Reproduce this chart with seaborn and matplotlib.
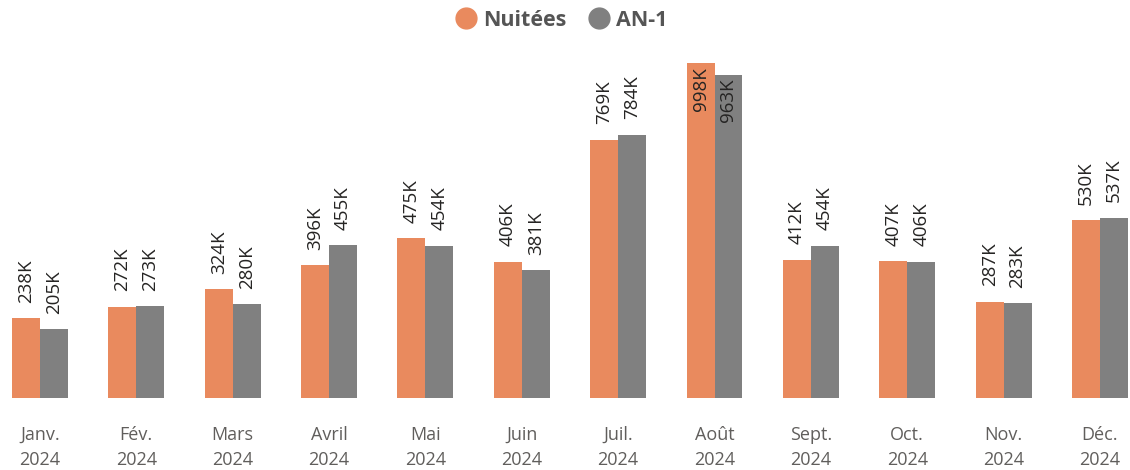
import matplotlib
matplotlib.use("Agg")
import matplotlib.pyplot as plt
from matplotlib.lines import Line2D
import seaborn as sns
import pandas as pd

months = ["Janv.\n2024", "Fév.\n2024", "Mars\n2024", "Avril\n2024", "Mai\n2024", "Juin\n2024",
          "Juil.\n2024", "Août\n2024", "Sept.\n2024", "Oct.\n2024", "Nov.\n2024", "Déc.\n2024"]
nuitees = [238, 272, 324, 396, 475, 406, 769, 998, 412, 407, 287, 530]
an1 = [205, 273, 280, 455, 454, 381, 784, 963, 454, 406, 283, 537]
series = ["Nuitées", "AN-1"]
colors = {"Nuitées": "#E98A5E", "AN-1": "#808080"}

df = pd.DataFrame({
    "mois": months * 2,
    "serie": [series[0]] * 12 + [series[1]] * 12,
    "valeur": nuitees + an1,
})

sns.set_theme(style="white")
plt.rcParams["font.family"] = ["Open Sans", "DejaVu Sans"]

fig = plt.figure(figsize=(11.3, 4.7), dpi=100)
ax = fig.add_axes([0, 1 - 398 / 470, 1, (398 - 40) / 470])

sns.barplot(data=df, x="mois", y="valeur", hue="serie", palette=colors,
            width=0.58, gap=0, ax=ax, legend=False, saturation=1, linewidth=0)

ymax = 1066
ax.set_ylim(0, ymax)
ax.set_xlim(-40 / 96.36, (1130 - 40) / 96.36)

for container, vals in zip(ax.containers, [nuitees, an1]):
    for bar, v in zip(container, vals):
        bar.set_edgecolor("none")
        cx = bar.get_x() + bar.get_width() / 2
        txt = f"{v}K"
        if v > 900:
            ax.annotate(txt, (cx, v), xytext=(0, -3), textcoords="offset points",
                        rotation=90, ha="center", va="top", fontsize=13.5, color="#252423")
        else:
            ax.annotate(txt, (cx, v), xytext=(0, 11), textcoords="offset points",
                        rotation=90, ha="center", va="bottom", fontsize=13.5, color="#252423")

ax.set_xlabel("")
ax.set_ylabel("")
ax.set_yticks([])
ax.tick_params(axis="x", length=0, pad=20, labelsize=13, labelcolor="#605E5C")
for lbl in ax.get_xticklabels():
    lbl.set_linespacing(1.5)
for s in ax.spines.values():
    s.set_visible(False)

handles = [Line2D([], [], marker="o", linestyle="", markersize=15,
                  markerfacecolor=colors[s], markeredgecolor=colors[s]) for s in series]
fig.legend(handles, series, loc="center", bbox_to_anchor=(556 / 1130, 1 - 20 / 470), ncol=2,
           frameon=False, handletextpad=-0.2, columnspacing=0.5,
           prop={"weight": "bold", "size": 15.5})
for t in fig.legends[0].get_texts():
    t.set_color("#555555")

fig.savefig("out.png", dpi=100)
